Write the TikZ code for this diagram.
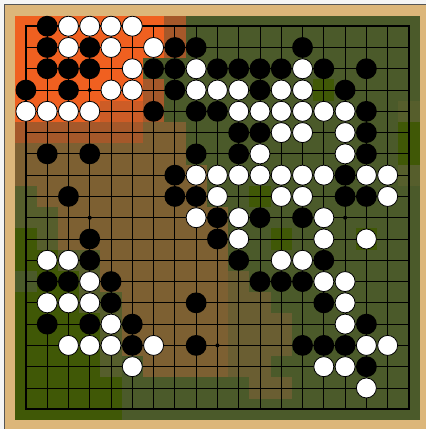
\documentclass[tikz,border=0pt]{standalone}
\usepackage{xcolor}
\definecolor{boardtan}{RGB}{220,182,122}
\definecolor{framegray}{RGB}{85,85,85}
\definecolor{hmO}{RGB}{240,96,32}
\definecolor{hmQ}{RGB}{205,92,38}
\definecolor{hmR}{RGB}{165,88,42}
\definecolor{hmB}{RGB}{125,96,50}
\definecolor{hmM}{RGB}{106,94,50}
\definecolor{hmg}{RGB}{86,94,44}
\definecolor{hmG}{RGB}{75,90,42}
\definecolor{hmY}{RGB}{64,88,6}
\begin{document}
\begin{tikzpicture}[x=1pt,y=-1pt,
    bstone/.style={fill=black},
    wstone/.style={fill=white,draw=black,line width=0.8pt}]
    \useasboundingbox (0,0) rectangle (426,429);
    % page and wooden frame
    \fill[gray!8] (0,0) rectangle (426,429);
    \fill[boardtan] (4.7,4.7) rectangle (426,429);
    \draw[framegray,line width=1pt] (4.7,429) -- (4.7,4.7) -- (426,4.7);
    \begin{scope}[shift={(25.9pt,-26.2pt)},x=21.28pt,y=-21.28pt]
    % heat map, one cell per point
    \foreach \r/\cells in {
        0/{O,O,O,O,O,O,O,R,G,G,G,G,G,G,G,G,G,G,G},
        1/{O,O,O,O,O,O,O,R,G,G,G,G,G,G,G,G,G,G,G},
        2/{O,O,O,O,O,O,G,G,G,G,G,G,G,G,G,G,G,G,G},
        3/{O,O,O,O,O,O,R,G,G,G,G,G,G,G,Y,G,G,G,G},
        4/{O,O,O,O,Q,Q,R,G,G,G,G,G,G,G,G,G,G,G,g},
        5/{R,R,R,R,R,R,B,B,G,G,G,G,G,G,G,G,G,G,Y},
        6/{B,B,B,B,B,B,B,B,G,G,G,G,G,G,G,G,G,G,Y},
        7/{B,B,B,B,B,B,B,B,B,G,G,G,G,G,G,G,G,G,g},
        8/{g,B,B,B,B,B,B,B,B,G,G,Y,G,G,G,G,G,G,G},
        9/{g,g,B,B,B,B,B,B,B,B,G,G,G,G,G,G,G,G,G},
        10/{Y,g,B,B,B,B,B,B,B,B,G,G,Y,G,G,G,Y,G,G},
        11/{Y,Y,g,g,B,B,B,B,B,B,G,G,G,G,G,G,G,G,G},
        12/{G,Y,Y,g,B,B,B,B,B,B,M,G,G,G,G,G,G,G,G},
        13/{Y,Y,Y,g,g,B,B,B,B,B,M,M,G,G,G,G,G,G,G},
        14/{Y,Y,Y,Y,g,B,B,B,B,B,M,M,M,G,G,G,G,G,G},
        15/{Y,Y,Y,Y,g,B,B,B,B,B,M,M,M,G,G,G,G,G,G},
        16/{Y,Y,Y,Y,g,G,B,B,B,B,M,M,G,G,G,G,G,G,G},
        17/{Y,Y,Y,Y,Y,G,G,G,G,G,G,M,M,G,G,G,G,G,G},
        18/{Y,Y,Y,Y,Y,G,G,G,G,G,G,G,G,G,G,G,G,G,G}}
        \foreach \k [count=\c from 0] in \cells
            \fill[hm\k] (\c-0.5,\r-0.5) rectangle (\c+0.52,\r+0.52);
    % grid
    \foreach \i in {1,...,17} {
        \draw[line width=0.9pt] (\i,0) -- (\i,18);
        \draw[line width=0.9pt] (0,\i) -- (18,\i);
    }
    \draw[line width=2pt] (0,0) rectangle (18,18);
    % star points
    \foreach \c in {3,9,15}
        \foreach \r in {3,9,15}
            \fill (\c,\r) circle (2pt);
    % black stones
    \foreach \c/\r in {1/0,
        1/1,3/1,7/1,8/1,13/1,
        1/2,2/2,3/2,6/2,7/2,9/2,10/2,11/2,12/2,14/2,16/2,
        0/3,2/3,7/3,11/3,15/3,
        6/4,8/4,9/4,16/4,
        10/5,11/5,16/5,
        1/6,3/6,8/6,10/6,16/6,
        7/7,15/7,
        2/8,7/8,8/8,15/8,16/8,
        9/9,11/9,13/9,
        3/10,9/10,
        3/11,10/11,14/11,
        1/12,2/12,4/12,11/12,12/12,13/12,
        4/13,8/13,14/13,
        1/14,3/14,5/14,16/14,
        5/15,8/15,13/15,14/15,15/15,
        16/16}
        \fill[bstone] (\c,\r) circle (10.4pt);
    % white stones
    \foreach \c/\r in {2/0,3/0,4/0,5/0,
        2/1,4/1,6/1,
        5/2,8/2,13/2,
        4/3,5/3,8/3,9/3,10/3,12/3,13/3,
        0/4,1/4,2/4,3/4,10/4,11/4,12/4,13/4,14/4,15/4,
        12/5,13/5,15/5,
        11/6,15/6,
        8/7,9/7,10/7,11/7,12/7,13/7,14/7,16/7,17/7,
        9/8,12/8,13/8,17/8,
        8/9,10/9,14/9,
        10/10,14/10,16/10,
        1/11,2/11,12/11,13/11,
        3/12,14/12,15/12,
        1/13,2/13,3/13,15/13,
        4/14,15/14,
        2/15,3/15,4/15,6/15,16/15,17/15,
        5/16,14/16,15/16,
        16/17}
        \draw[wstone] (\c,\r) circle (10pt);
    \end{scope}
\end{tikzpicture}
\end{document}
